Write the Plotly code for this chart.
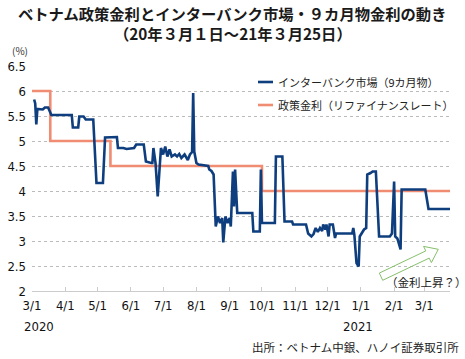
import plotly.graph_objects as go
import pandas as pd

# ---- data ----
start = pd.Timestamp("2020-03-01")
interbank_days = [2, 3, 4, 5, 10, 12, 15, 16, 18, 37, 38, 43, 44, 48, 50, 57, 60, 66, 68, 79, 80, 85, 88, 95,
                  97, 104, 106, 111, 112, 113, 115, 117, 119, 120, 122, 124, 126, 128, 130, 133, 135, 137,
                  139, 142, 145, 147, 149, 150, 151, 153, 155, 164, 165, 167, 169, 171, 173, 175, 177, 178,
                  180, 182, 184, 185, 187, 188, 189, 191, 205, 206, 212, 213, 214, 226, 227, 233, 235, 242,
                  243, 255, 257, 260, 262, 264, 266, 268, 270, 271, 273, 274, 276, 277, 280, 282, 283, 298,
                  299, 300, 302, 304, 305, 307, 309, 311, 312, 315, 317, 320, 323, 333, 335, 337, 338, 340,
                  343, 344, 366, 369, 389]
interbank_vals = [5.83, 5.75, 5.33, 5.64, 5.63, 5.67, 5.67, 5.62, 5.52, 5.52, 5.27, 5.27, 5.49, 5.49, 5.43,
                  5.43, 4.16, 4.16, 5.07, 5.08, 4.86, 4.86, 4.84, 4.86, 4.93, 4.93, 4.59, 4.56, 4.56, 4.86,
                  4.55, 3.89, 4.46, 4.86, 4.73, 4.89, 4.69, 4.83, 4.69, 4.73, 4.69, 4.74, 4.66, 4.73, 4.62,
                  4.73, 4.78, 5.96, 4.79, 4.56, 4.53, 4.50, 4.43, 4.40, 4.33, 3.29, 3.49, 3.36, 3.46, 2.97,
                  3.49, 3.36, 3.46, 3.29, 4.39, 3.69, 4.43, 3.56, 3.56, 3.19, 3.19, 4.43, 3.36, 3.36, 4.69,
                  4.69, 3.39, 3.39, 3.33, 3.33, 3.15, 3.09, 3.14, 3.26, 3.18, 3.26, 3.20, 3.33, 3.23, 3.33,
                  3.09, 3.33, 3.33, 3.06, 3.15, 3.15, 3.26, 3.12, 2.56, 2.49, 3.09, 3.15, 3.23, 3.26, 4.33,
                  4.36, 4.39, 4.39, 3.09, 3.09, 3.15, 4.19, 3.09, 3.05, 2.83, 4.03, 4.03, 3.64, 3.64]
interbank_dates = [start + pd.Timedelta(days=d) for d in interbank_days]

policy_dates = ["2020-03-01", "2020-03-18", "2020-05-13", "2020-10-01", "2021-03-25"]
policy_vals = [6.0, 5.0, 4.5, 4.0, 4.0]

tick_dates = ["2020-03-01", "2020-04-01", "2020-05-01", "2020-06-01", "2020-07-01", "2020-08-01",
              "2020-09-01", "2020-10-01", "2020-11-01", "2020-12-01", "2021-01-01", "2021-02-01",
              "2021-03-01"]
tick_labels = ["3/1", "4/1", "5/1", "6/1", "7/1", "8/1", "9/1", "10/1", "11/1", "12/1", "1/1", "2/1", "3/1"]
y_ticks = [2, 2.5, 3, 3.5, 4, 4.5, 5, 5.5, 6, 6.5]

title1 = "ベトナム政策金利とインターバンク市場・９カ月物金利の動き"
title2 = "（20年３月１日～21年３月25日）"
name_ib = "インターバンク市場（9カ月物）"
name_pol = "政策金利（リファイナンスレート）"
source = "出所：ベトナム中銀、ハノイ証券取引所"

BLUE = "#0E3E7E"
ORANGE = "#F08C72"
GREEN = "#86C06A"
JP = "Noto Sans CJK JP, Noto Sans, sans-serif"
NUM = "Liberation Sans Narrow, DejaVu Sans Condensed, Roboto, sans-serif"

W, H = 465, 359
L, R, T, B = 32, 15, 66, 68
PW, PH = W - L - R, H - T - B


def xp(px):
    return (px - L) / PW


def yp(py):
    return (H - B - py) / PH


fig = go.Figure()
fig.add_trace(go.Scatter(x=policy_dates, y=policy_vals, mode="lines", line_shape="hv",
                         line=dict(color=ORANGE, width=2.6), name=name_pol, showlegend=False))
fig.add_trace(go.Scatter(x=interbank_dates, y=interbank_vals, mode="lines",
                         line=dict(color=BLUE, width=2.6), name=name_ib, showlegend=False))

annotations = [
    dict(text=title1, x=xp(232), y=yp(13), xref="paper", yref="paper", showarrow=False,
         font=dict(family=JP, size=15.3, color="#1a1a1a", weight="bold"), xanchor="center", yanchor="middle"),
    dict(text=title2, x=xp(233), y=yp(33), xref="paper", yref="paper", showarrow=False,
         font=dict(family=JP, size=15.3, color="#1a1a1a", weight="bold"), xanchor="center", yanchor="middle"),
    dict(text="(%)", x=xp(10), y=yp(50), xref="paper", yref="paper", showarrow=False,
         font=dict(family=JP, size=10, color="#333"), xanchor="left", yanchor="middle"),
    dict(text=name_ib, x=xp(276), y=yp(82), xref="paper", yref="paper", showarrow=False,
         font=dict(family=JP, size=11, color="#222"), xanchor="left", yanchor="middle"),
    dict(text=name_pol, x=xp(276), y=yp(105), xref="paper", yref="paper", showarrow=False,
         font=dict(family=JP, size=11, color="#222"), xanchor="left", yanchor="middle"),
    dict(text="2020", x=xp(39), y=yp(326), xref="paper", yref="paper", showarrow=False,
         font=dict(family=NUM, size=13, color="#111"), xanchor="center", yanchor="middle"),
    dict(text="2021", x=xp(358), y=yp(326), xref="paper", yref="paper", showarrow=False,
         font=dict(family=NUM, size=13, color="#111"), xanchor="center", yanchor="middle"),
    dict(text="（金利上昇？）", x=xp(426), y=yp(282), xref="paper", yref="paper", showarrow=False,
         font=dict(family=JP, size=11.5, color="#222"), xanchor="center", yanchor="middle"),
    dict(text=source, x=xp(461), y=yp(347), xref="paper", yref="paper", showarrow=False,
         font=dict(family=JP, size=11.5, color="#222"), xanchor="right", yanchor="middle"),
]

# arrow outline (pixel points -> paper)
arrow_px = [(379.3, 273.1), (425.8, 250.9), (423.6, 246.4), (438.3, 249.3),
            (431.4, 262.6), (429.2, 258.1), (382.7, 280.3)]
path = "M " + " L ".join(f"{xp(a):.4f},{yp(b):.4f}" for a, b in arrow_px) + " Z"

shapes = [
    dict(type="line", xref="paper", yref="paper", x0=xp(258), x1=xp(273), y0=yp(82), y1=yp(82),
         line=dict(color=BLUE, width=2.6)),
    dict(type="line", xref="paper", yref="paper", x0=xp(258), x1=xp(273), y0=yp(105), y1=yp(105),
         line=dict(color=ORANGE, width=2.6)),
    dict(type="path", xref="paper", yref="paper", path=path, line=dict(color=GREEN, width=1),
         fillcolor="rgba(0,0,0,0)"),
]

fig.update_layout(
    width=W, height=H, margin=dict(l=L, r=R, t=T, b=B, autoexpand=False),
    paper_bgcolor="white", plot_bgcolor="white",
    showlegend=False,
    annotations=annotations, shapes=shapes,
    xaxis=dict(range=["2020-03-01", "2021-03-25"], tickvals=tick_dates, ticktext=tick_labels,
               showgrid=False, showline=True, linecolor="#cccccc", linewidth=1, automargin=False,
               ticks="inside", ticklen=4, tickcolor="#cccccc", ticklabelstandoff=2,
               tickfont=dict(family=NUM, size=13, color="#111"), zeroline=False),
    yaxis=dict(range=[2, 6.5], tickvals=y_ticks, showgrid=True, gridcolor="#bbbbbb", griddash="dot",
               gridwidth=1, zeroline=False, showline=False, ticks="", ticklabelstandoff=5,
               automargin=False, tickfont=dict(family=NUM, size=13, color="#111")),
)

fig.write_html("out.html", config={"displayModeBar": False},
               post_script="document.body.style.margin='0px';document.body.style.padding='0px';")
